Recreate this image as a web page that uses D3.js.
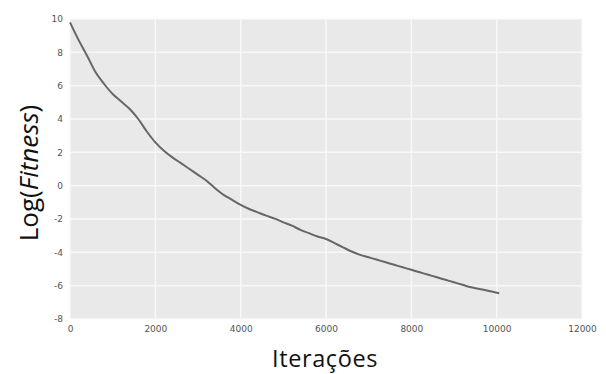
<!DOCTYPE html>
<html>
<head>
<meta charset="utf-8">
<script src="https://cdn.jsdelivr.net/npm/d3@7"></script>
<style>
  body { margin: 0; background: #fff; }
  svg { display: block; }
</style>
</head>
<body>
<div id="chart"></div>
<script>
// chart size
const width = 606;
const height = 374;
const margin = { top: 19, right: 24, bottom: 55, left: 70 };

// data
const iterations = [0, 200, 400, 600, 800, 1000, 1200, 1400, 1600, 1800, 2000, 2200, 2400, 2600, 2800,
  3000, 3200, 3400, 3600, 3800, 4000, 4200, 4400, 4600, 4800, 5000, 5200, 5400, 5600, 5800,
  6000, 6200, 6400, 6600, 6800, 7000, 7200, 7400, 7600, 7800, 8000, 8200, 8400, 8600, 8800,
  9000, 9200, 9400, 9600, 9800, 10060];
const logFitness = [9.8, 8.75, 7.8, 6.8, 6.1, 5.5, 5.05, 4.6, 4.0, 3.25, 2.6, 2.1, 1.7, 1.35, 1.0,
  0.65, 0.3, -0.15, -0.55, -0.85, -1.15, -1.4, -1.6, -1.8, -1.98, -2.2, -2.4, -2.65, -2.85, -3.05,
  -3.2, -3.45, -3.7, -3.95, -4.15, -4.3, -4.45, -4.6, -4.75, -4.9, -5.05, -5.2, -5.35, -5.5, -5.65,
  -5.8, -5.95, -6.1, -6.2, -6.3, -6.45];
const xTicks = [0, 2000, 4000, 6000, 8000, 10000, 12000];
const yTicks = [10, 8, 6, 4, 2, 0, -2, -4, -6, -8];

const svg = d3.select("#chart")
  .append("svg")
  .attr("width", width)
  .attr("height", height);

const x = d3.scaleLinear()
  .domain([0, 12000])
  .range([margin.left, width - margin.right]);

const y = d3.scaleLinear()
  .domain([-8, 10])
  .range([height - margin.bottom, margin.top]);

// grey plot background
svg.append("rect")
  .attr("x", margin.left)
  .attr("y", margin.top)
  .attr("width", x(12000) - x(0))
  .attr("height", y(-8) - y(10))
  .attr("fill", "#e9e9e9");

// white grid lines
svg.append("g")
  .selectAll("line")
  .data(xTicks)
  .enter()
  .append("line")
  .attr("x1", d => x(d))
  .attr("x2", d => x(d))
  .attr("y1", y(10))
  .attr("y2", y(-8))
  .attr("stroke", "#f8f8f8")
  .attr("stroke-width", 1.5);

svg.append("g")
  .selectAll("line")
  .data(yTicks)
  .enter()
  .append("line")
  .attr("x1", x(0))
  .attr("x2", x(12000))
  .attr("y1", d => y(d))
  .attr("y2", d => y(d))
  .attr("stroke", "#f8f8f8")
  .attr("stroke-width", 1.5);

// axes, tick labels only
const xAxis = svg.append("g")
  .attr("transform", "translate(0," + (height - margin.bottom) + ")")
  .call(d3.axisBottom(x).tickValues(xTicks).tickSize(0).tickPadding(7).tickFormat(d3.format("d")));

const yAxis = svg.append("g")
  .attr("transform", "translate(" + margin.left + ",0)")
  .call(d3.axisLeft(y).tickValues(yTicks).tickSize(0).tickPadding(7).tickFormat(d => d < 0 ? "-" + Math.abs(d) : d));

[xAxis, yAxis].forEach(a => {
  a.select(".domain").remove();
  a.selectAll("text")
    .style("font-family", "DejaVu Sans, sans-serif")
    .style("font-size", "9px")
    .style("fill", "#555");
});

// the line
const line = d3.line()
  .x((d, i) => x(iterations[i]))
  .y(d => y(d))
  .curve(d3.curveMonotoneX);

svg.append("path")
  .datum(logFitness)
  .attr("d", line)
  .attr("fill", "none")
  .attr("stroke", "#666")
  .attr("stroke-width", 2);

// axis titles
svg.append("text")
  .attr("x", 325)
  .attr("y", 367)
  .attr("text-anchor", "middle")
  .style("font-family", "Open Sans, sans-serif")
  .style("font-size", "23.5px")
  .style("letter-spacing", "0.6px")
  .style("fill", "#111")
  .text("Iterações");

const yt = svg.append("text")
  .attr("transform", "translate(38,173) rotate(-90)")
  .attr("text-anchor", "middle")
  .style("font-family", "Open Sans, sans-serif")
  .style("font-size", "26px")
  .style("fill", "#111");
yt.append("tspan").text("Log(");
yt.append("tspan").style("font-style", "italic").text("Fitness");
yt.append("tspan").text(")");
</script>
</body>
</html>
